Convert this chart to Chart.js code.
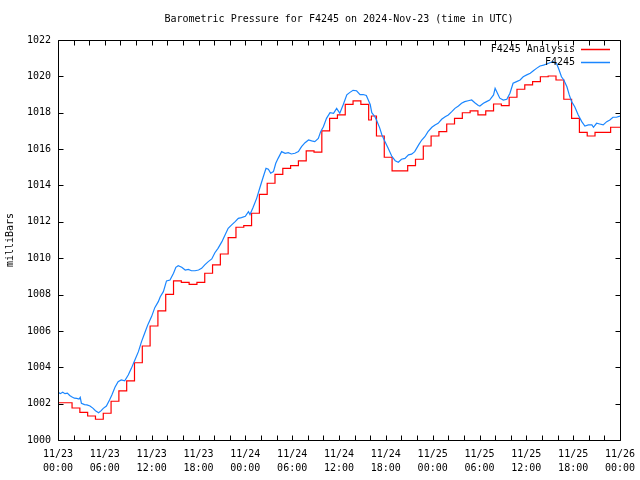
<!DOCTYPE html>
<html>
<head>
<meta charset="utf-8">
<script src="https://cdn.jsdelivr.net/npm/chart.js@4"></script>
<style>
html, body { margin: 0; padding: 0; background: #fff; }
canvas { display: block; }
</style>
</head>
<body>
<canvas id="myChart" width="640" height="480"></canvas>
<script>
// tick labels (every 6 hours)
const xTickDays = ['11/23', '11/23', '11/23', '11/23', '11/24', '11/24', '11/24', '11/24', '11/25', '11/25', '11/25', '11/25', '11/26'];
const xTickTimes = ['00:00', '06:00', '12:00', '18:00', '00:00', '06:00', '12:00', '18:00', '00:00', '06:00', '12:00', '18:00', '00:00'];

// F4245 Analysis, hours since 11/23 00:00 where each step starts
const analysisHours = [0, 1.8, 2.8, 3.8, 4.8, 5.8, 6.8, 7.8, 8.8, 9.8, 10.8, 11.8, 12.8, 13.8, 14.8, 15.8, 16.8, 17.8, 18.8, 19.8,
    20.8, 21.8, 22.8, 23.8, 24.8, 25.8, 26.8, 27.8, 28.8, 29.8, 30.8, 31.8, 32.8, 33.8, 34.8, 35.8, 36.8, 37.8, 38.8, 39.8,
    40.15, 40.8, 41.8, 42.8, 43.8, 44.8, 45.8, 46.8, 47.8, 48.8, 49.8, 50.8, 51.8, 52.8, 53.8, 54.8, 55.8, 56.8, 57.8, 58.8,
    59.8, 60.8, 61.8, 62.8, 63.8, 64.8, 65.8, 66.8, 67.8, 68.8, 69.8, 70.8, 71.8, 72];
const analysisMb = [1002.05, 1001.76, 1001.52, 1001.32, 1001.14, 1001.47, 1002.13, 1002.70, 1003.25, 1004.25, 1005.17, 1006.27, 1007.10, 1008.01, 1008.75, 1008.67, 1008.56, 1008.67, 1009.17, 1009.63,
    1010.23, 1011.13, 1011.70, 1011.79, 1012.47, 1013.51, 1014.12, 1014.61, 1014.94, 1015.09, 1015.35, 1015.90, 1015.83, 1017.00, 1017.69, 1017.88, 1018.46, 1018.65, 1018.46, 1017.60,
    1017.82, 1016.72, 1015.55, 1014.80, 1014.80, 1015.09, 1015.44, 1016.17, 1016.72, 1016.96, 1017.38, 1017.69, 1018.00, 1018.10, 1017.88, 1018.10, 1018.48, 1018.39, 1018.85, 1019.29,
    1019.53, 1019.71, 1019.98, 1020.02, 1019.80, 1018.74, 1017.69, 1016.92, 1016.72, 1016.92, 1016.92, 1017.20, 1017.20, 1017.20];

// F4245 station readings
const stationHours = [0, 0.3, 0.6, 0.9, 1.2, 1.5, 1.75, 2.1, 2.4, 2.7, 2.85, 3.0, 3.4, 3.7, 4.1, 4.5, 4.8, 5.2, 5.5, 5.8,
    6.2, 6.6, 6.9, 7.3, 7.7, 8.1, 8.55, 9.0, 9.4, 9.85, 10.3, 10.7, 11.1, 11.5, 12.0, 12.4, 12.85, 13.1, 13.5, 13.9,
    14.35, 14.8, 15.1, 15.4, 15.85, 16.3, 16.7, 17.1, 17.55, 18.0, 18.4, 18.8, 19.25, 19.7, 20.1, 20.5, 21.0, 21.4, 21.8, 22.25,
    22.7, 23.1, 23.5, 24.0, 24.4, 24.6, 25.0, 25.45, 25.9, 26.3, 26.65, 26.95, 27.25, 27.6, 27.9, 28.2, 28.65, 29.1, 29.5, 29.9,
    30.35, 30.8, 31.2, 31.65, 32.1, 32.5, 32.9, 33.35, 33.65, 34.0, 34.4, 34.85, 35.3, 35.7, 36.1, 36.55, 37.0, 37.4, 37.8, 38.25,
    38.7, 39.1, 39.5, 39.75, 40.0, 40.2, 40.6, 40.8, 41.2, 41.5, 41.9, 42.3, 42.75, 43.2, 43.6, 44.0, 44.45, 44.9, 45.3, 45.7,
    46.2, 46.6, 47.0, 47.4, 47.9, 48.3, 48.7, 49.15, 49.6, 50.0, 50.45, 50.85, 51.3, 51.7, 52.1, 52.55, 53.0, 53.4, 53.85, 54.05,
    54.5, 54.9, 55.3, 55.8, 56.0, 56.3, 56.6, 57.05, 57.5, 57.9, 58.3, 58.75, 59.2, 59.6, 60.05, 60.5, 60.9, 61.3, 61.75, 62.2,
    62.6, 63.0, 63.45, 63.9, 64.2, 64.5, 64.8, 65.2, 65.5, 65.8, 66.2, 66.65, 67.1, 67.5, 67.95, 68.4, 68.6, 69.0, 69.4, 69.85,
    70.3, 70.7, 71.1, 71.55, 72.0];
const stationMb = [1002.62, 1002.55, 1002.63, 1002.55, 1002.58, 1002.45, 1002.38, 1002.30, 1002.29, 1002.25, 1002.35, 1002.02, 1001.95, 1001.93, 1001.87, 1001.74, 1001.61, 1001.50, 1001.60, 1001.74,
    1001.87, 1002.20, 1002.48, 1002.90, 1003.21, 1003.30, 1003.25, 1003.57, 1003.94, 1004.40, 1004.86, 1005.41, 1005.87, 1006.33, 1006.80, 1007.28, 1007.61, 1007.88, 1008.16, 1008.75,
    1008.80, 1009.17, 1009.50, 1009.59, 1009.50, 1009.35, 1009.38, 1009.31, 1009.31, 1009.35, 1009.44, 1009.63, 1009.81, 1009.96, 1010.30, 1010.54, 1010.91, 1011.28, 1011.64, 1011.83,
    1012.01, 1012.19, 1012.23, 1012.30, 1012.56, 1012.40, 1012.80, 1013.29, 1013.93, 1014.48, 1014.94, 1014.89, 1014.67, 1014.76, 1015.22, 1015.49, 1015.86, 1015.77, 1015.80, 1015.73,
    1015.77, 1015.86, 1016.13, 1016.35, 1016.50, 1016.45, 1016.41, 1016.59, 1016.96, 1017.23, 1017.69, 1018.00, 1017.97, 1018.24, 1017.97, 1018.45, 1018.98, 1019.12, 1019.23, 1019.21,
    1019.00, 1019.00, 1018.95, 1018.70, 1018.45, 1018.00, 1017.78, 1017.60, 1017.18, 1016.78, 1016.41, 1016.04, 1015.62, 1015.36, 1015.28, 1015.44, 1015.49, 1015.68, 1015.72, 1015.86,
    1016.23, 1016.50, 1016.68, 1016.96, 1017.20, 1017.33, 1017.42, 1017.64, 1017.78, 1017.88, 1018.06, 1018.24, 1018.37, 1018.52, 1018.61, 1018.66, 1018.70, 1018.55, 1018.40, 1018.37,
    1018.52, 1018.61, 1018.70, 1018.98, 1019.34, 1019.07, 1018.80, 1018.70, 1018.74, 1019.07, 1019.62, 1019.71, 1019.80, 1019.98, 1020.08, 1020.17, 1020.31, 1020.44, 1020.57, 1020.62,
    1020.68, 1020.75, 1020.81, 1020.68, 1020.35, 1019.98, 1019.80, 1019.43, 1018.98, 1018.61, 1018.33, 1017.88, 1017.51, 1017.27, 1017.33, 1017.33, 1017.20, 1017.42, 1017.38, 1017.33,
    1017.51, 1017.60, 1017.75, 1017.75, 1017.82];

const ctx = document.getElementById('myChart');
const monoFont = "'DejaVu Sans Mono', monospace";
Chart.defaults.font.family = monoFont;
Chart.defaults.font.size = 10;
Chart.defaults.color = '#000';

// gnuplot style frame, inward ticks, title and legend
const framePlugin = {
    id: 'frame',
    afterDatasetsDraw(chart) {
        const c = chart.ctx;
        const a = chart.chartArea;
        const xs = chart.scales.x;
        const ys = chart.scales.y;
        const L = Math.round(a.left) + 0.5, R = Math.round(a.right) + 0.5;
        const T = Math.round(a.top) + 0.5, B = Math.round(a.bottom) + 0.5;
        c.save();
        c.strokeStyle = '#000';
        c.lineWidth = 1;
        c.beginPath();
        c.rect(L, T, R - L, B - T);
        xs.ticks.forEach(t => {
            const px = Math.round(xs.getPixelForValue(t.value)) + 0.5;
            c.moveTo(px, B); c.lineTo(px, B - 5);
            c.moveTo(px, T); c.lineTo(px, T + 5);
        });
        ys.ticks.forEach(t => {
            const py = Math.round(ys.getPixelForValue(t.value)) + 0.5;
            c.moveTo(L, py); c.lineTo(L + 5, py);
            c.moveTo(R, py); c.lineTo(R - 5, py);
        });
        c.stroke();

        c.font = '10px ' + monoFont;
        c.fillStyle = '#000';
        c.textBaseline = 'middle';
        c.textAlign = 'center';
        c.fillText('Barometric Pressure for F4245 on 2024-Nov-23 (time in UTC)', (a.left + a.right) / 2, 19);

        c.textAlign = 'right';
        chart.data.datasets.forEach((ds, i) => {
            const ly = 49 + i * 13;
            c.fillStyle = '#000';
            c.fillText(ds.label, 575, ly);
            c.strokeStyle = ds.borderColor;
            c.lineWidth = 1.5;
            c.beginPath();
            c.moveTo(581, ly + 0.5);
            c.lineTo(610, ly + 0.5);
            c.stroke();
        });
        c.restore();
    }
};

new Chart(ctx, {
    type: 'line',
    data: {
        datasets: [{
            label: 'F4245 Analysis',
            data: analysisHours.map((h, i) => ({ x: h, y: analysisMb[i] })),
            borderColor: '#ff0000',
            borderWidth: 1.2,
            stepped: true,
            pointRadius: 0,
            order: 1
        }, {
            label: 'F4245',
            data: stationHours.map((h, i) => ({ x: h, y: stationMb[i] })),
            borderColor: '#1a86ff',
            borderWidth: 1.2,
            pointRadius: 0,
            tension: 0,
            order: 0
        }]
    },
    options: {
        responsive: false,
        animation: false,
        devicePixelRatio: 1,
        layout: { padding: { top: 40, right: 20, left: 0, bottom: 0 } },
        plugins: {
            legend: { display: false },
            title: { display: false },
            tooltip: { enabled: false }
        },
        scales: {
            x: {
                type: 'linear',
                min: 0,
                max: 72,
                grid: { display: false },
                border: { display: false },
                ticks: {
                    stepSize: 2,
                    autoSkip: false,
                    maxRotation: 0,
                    padding: -1,
                    font: { size: 10, lineHeight: 1.4 },
                    callback: v => v % 6 === 0 ? [xTickDays[v / 6], xTickTimes[v / 6]] : ''
                },
                afterFit: s => { s.height = 40; }
            },
            y: {
                min: 1000,
                max: 1022,
                grid: { display: false },
                border: { display: false },
                ticks: { stepSize: 2, padding: -1, callback: v => String(v) },
                title: { display: true, text: 'milliBars', padding: { top: 4, bottom: 0 } },
                afterFit: s => { s.width = 58; }
            }
        }
    },
    plugins: [framePlugin]
});
</script>
</body>
</html>
